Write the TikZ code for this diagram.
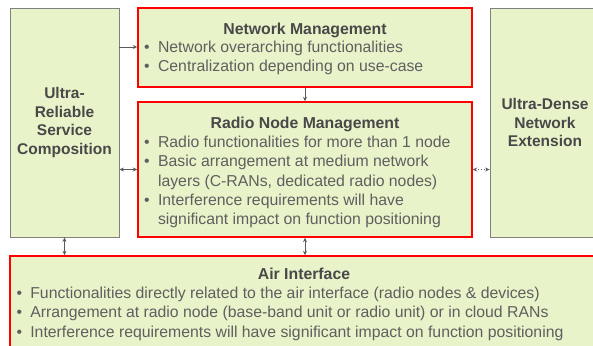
\documentclass[tikz,border=0pt]{standalone}
\usepackage{fontspec}
\setmainfont{Liberation Sans}
\usepackage{tikz}
\usetikzlibrary{positioning, arrows.meta, calc}
\definecolor{boxfill}{RGB}{233,243,202}
\definecolor{boxgrey}{RGB}{128,128,128}
\definecolor{txtgrey}{RGB}{95,95,95}
\definecolor{headgrey}{RGB}{72,72,72}
\definecolor{wiregrey}{RGB}{90,90,90}
\tikzset{
  redbox/.style={rectangle, draw=red, line width=1.4pt, fill=boxfill, inner sep=0pt},
  greybox/.style={rectangle, draw=boxgrey, line width=0.8pt, fill=boxfill, inner sep=0pt, align=center, font=\fontsize{15.5}{18.8}\selectfont\bfseries, text=headgrey},
  heading/.style={anchor=base, inner sep=0pt, font=\fontsize{15.8}{18}\selectfont\bfseries, text=headgrey},
  bullets/.style={anchor=base west, inner sep=0pt, font=\fontsize{15.8}{19.3}\selectfont, text=txtgrey},
  link/.style={draw=wiregrey, line width=0.8pt, -{Stealth[length=4.5pt,width=4pt]}},
  dlink/.style={draw=wiregrey, line width=0.8pt, {Stealth[length=4.5pt,width=4pt]}-{Stealth[length=4.5pt,width=4pt]}}
}
\newcommand{\bl}{\textbullet}

\begin{document}
\begin{tikzpicture}[x=1pt, y=-1pt]

  \useasboundingbox (0,0) rectangle (593,345);
  \clip (0,0) rectangle (593,345);

  % Cajas laterales
  \node[greybox, minimum width=109pt, minimum height=229pt] (ursc) at (64.5,122.5) {Ultra-\\Reliable\\Service\\Composition};
  \node[greybox, minimum width=110pt, minimum height=229pt] (udne) at (545,122.5) {Ultra-Dense\\Network\\Extension};

  % Cajas centrales
  \node[redbox, minimum width=334pt, minimum height=79pt] (nm) at (305,47.5) {};
  \node[redbox, minimum width=334pt, minimum height=135pt] (rnm) at (305,169.5) {};
  \node[redbox, minimum width=590pt, minimum height=104pt] (air) at (305,308) {};

  % Network Management
  \node[heading] (nmhead) at (305,34.5) {Network Management};
  \node[bullets] (nmlist) at (144,52.5) {\begin{tabular}[t]{@{}l@{\hspace{8.3pt}}l@{}}
    \bl & Network overarching functionalities\\
    \bl & Centralization depending on use-case
  \end{tabular}};

  % Radio Node Management
  \node[heading] (rnmhead) at (305,128.5) {Radio Node Management};
  \node[bullets] (rnmlist) at (144,147.5) {\begin{tabular}[t]{@{}l@{\hspace{8.3pt}}l@{}}
    \bl & Radio functionalities for more than 1 node\\
    \bl & Basic arrangement at medium network\\
        & layers (C-RANs, dedicated radio nodes)\\
    \bl & Interference requirements will have\\
        & significant impact on function positioning
  \end{tabular}};

  % Air Interface
  \node[heading] (airhead) at (304,279.5) {Air Interface};
  \node[bullets] (airlist) at (16.3,298.5) {\begin{tabular}[t]{@{}l@{\hspace{8.3pt}}l@{}}
    \bl & Functionalities directly related to the air interface (radio nodes \& devices)\\
    \bl & Arrangement at radio node (base-band unit or radio unit) or in cloud RANs\\
    \bl & Interference requirements will have significant impact on function positioning
  \end{tabular}};

  % Conexiones
  \draw[link] (ursc.east |- 0,47) -- (nm.west |- 0,47);
  \draw[link] (nm.south) -- (rnm.north);
  \draw[dlink] (ursc.east |- rnm.west) -- (rnm.west);
  \draw[dlink, dotted] (rnm.east) -- (udne.west |- rnm.east);
  \draw[dlink] (ursc.south) -- (ursc.south |- air.north);
  \draw[dlink] (rnm.south) -- (rnm.south |- air.north);

\end{tikzpicture}
\end{document}
